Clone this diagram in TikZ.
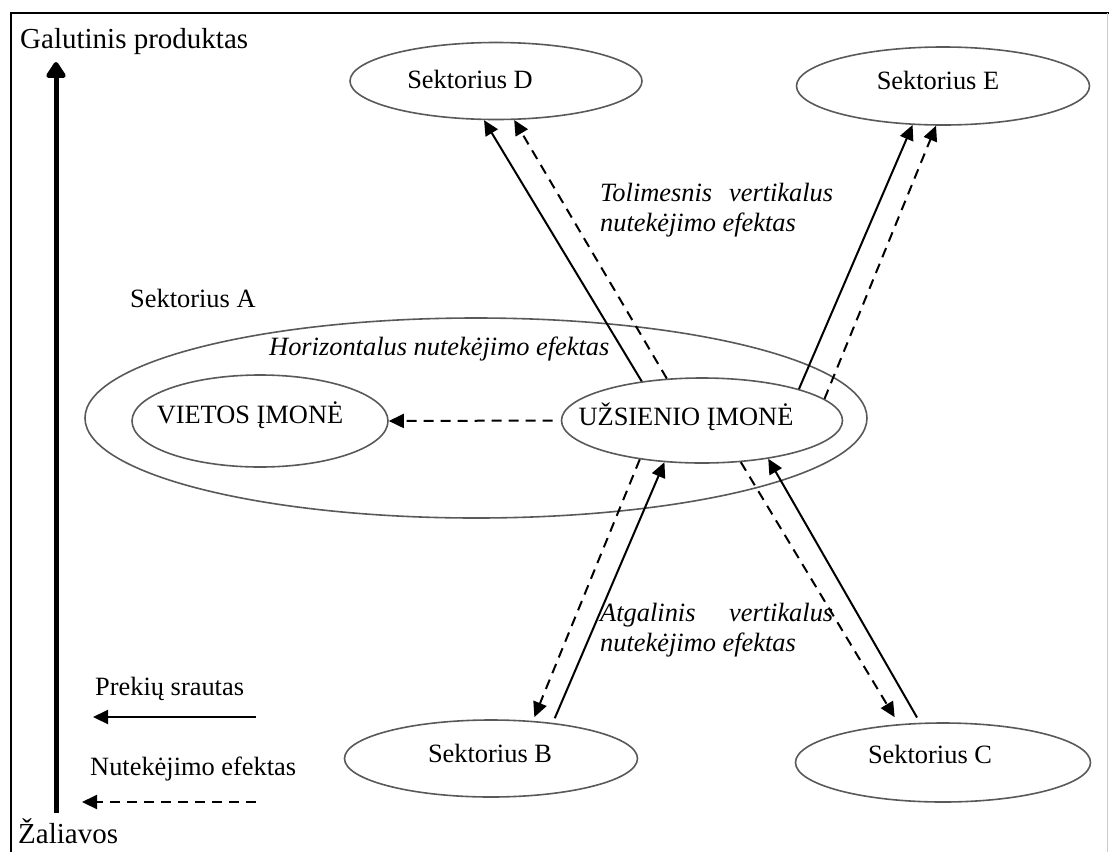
\documentclass[tikz,border=0pt]{standalone}
\usepackage{fontspec}
\setmainfont{Liberation Serif}
\usetikzlibrary{shapes.geometric,arrows.meta}

\begin{document}
\begin{tikzpicture}[x=1pt, y=-1pt,
    sector/.style={ellipse, draw=black!65, line width=1.6pt, inner sep=0pt},
    txt/.style={font=\fontsize{26.4}{31}\selectfont, inner sep=0pt, anchor=base},
    note/.style={font=\fontsize{26.4}{30}\selectfont\itshape, inner sep=0pt, text width=233pt, align=justify, anchor=north west},
    axislab/.style={font=\fontsize{29}{34}\selectfont, inner sep=0pt, anchor=base west},
    flow/.style={-{Triangle[length=15pt, width=14pt]}, line width=2pt},
    spill/.style={flow, dash pattern=on 10pt off 7pt},
]
\useasboundingbox (0,0) rectangle (1109,852);

% frame
\draw[line width=2pt] (11,852) -- (11,13) -- (1109,13);
\draw[black!20, line width=1pt] (1107.5,13) -- (1107.5,852);

% vertical axis
\coordinate (raw) at (56,813);
\coordinate (fin) at (56,62);
\draw[line width=5pt, -{Triangle[round, length=18pt, width=22pt]}] (raw) -- (fin);
\node[axislab] (tfin) at (20,48) {Galutinis produktas};
\node[axislab] (traw) at (18,843) {Žaliavos};

% sectors
\node[sector, minimum width=782pt, minimum height=200pt] (sA) at (476,418) {};
\node[txt, anchor=base west] (tA) at (130,307) {Sektorius A};
\node[sector, minimum width=256pt, minimum height=92pt] (sV) at (260,421) {};
\node[txt] (tV) at (250,423) {VIETOS ĮMONĖ};
\node[sector, minimum width=281pt, minimum height=85pt] (sU) at (702,420.5) {};
\node[txt] (tU) at (686,425) {UŽSIENIO ĮMONĖ};
\node[sector, minimum width=292pt, minimum height=77pt] (sD) at (496,81) {};
\node[txt] (tD) at (470,88) {Sektorius D};
\node[sector, minimum width=293pt, minimum height=78pt] (sE) at (943,86) {};
\node[txt] (tE) at (938,89) {Sektorius E};
\node[sector, minimum width=293pt, minimum height=77pt] (sB) at (491,758.5) {};
\node[txt] (tB) at (490,762) {Sektorius B};
\node[sector, minimum width=295pt, minimum height=79pt] (sC) at (943,762.5) {};
\node[txt] (tC) at (930,763) {Sektorius C};

% spillovers and flows
\draw[spill, shorten <=8pt] (sU.west) -- (sV.east);
\node[txt, anchor=base west, font=\fontsize{26.4}{31}\selectfont\itshape] (tHor) at (269,355) {Horizontalus nutekėjimo efektas};

\draw[flow] (sU.147) -- (sD.-107);
\draw[spill] (sU.130) -- (sD.-65);
\draw[flow] (sU.18) -- (sE.-128);
\draw[spill] (sU.10) -- (sE.-100);
\node[note] (tFwd) at (600,183) {Tolimesnis vertikalus nutekėjimo efektas};

\draw[flow, shorten <=5pt] (sB.30) -- (sU.-132);
\draw[spill, shorten >=4pt] (sU.-148) -- (sB.42);
\draw[flow, shorten <=6pt] (sC.120) -- (sU.-30);
\draw[spill, shorten >=8pt] (sU.-47) -- (sC.139);
\node[note] (tBack) at (600,603) {Atgalinis vertikalus nutekėjimo efektas};

% legend
\node[txt, anchor=base west] (tGoods) at (95,695) {Prekių srautas};
\coordinate (g1) at (256,717);
\coordinate (g2) at (93,717);
\draw[flow] (g1) -- (g2);
\node[txt, anchor=base west] (tSpill) at (90,775) {Nutekėjimo efektas};
\coordinate (s1) at (256,802);
\coordinate (s2) at (82,802);
\draw[spill] (s1) -- (s2);
\end{tikzpicture}
\end{document}
